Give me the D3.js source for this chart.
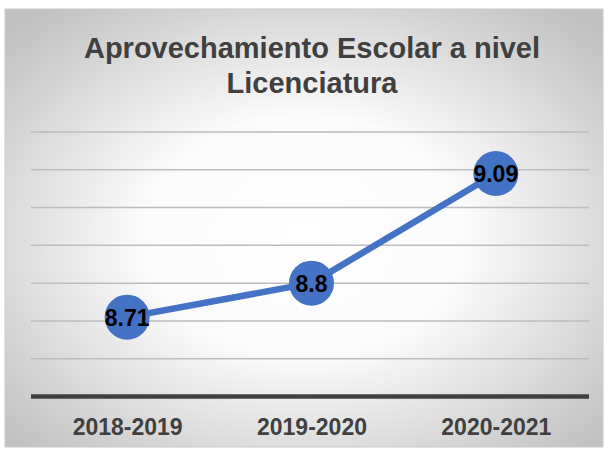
<!DOCTYPE html>
<html>
<head>
<meta charset="utf-8">
<title>Aprovechamiento Escolar</title>
<script src="https://cdn.jsdelivr.net/npm/d3@7"></script>
<style>
  body { margin: 0; background: white; }
  svg { display: block; }
</style>
</head>
<body>
<div id="chart"></div>
<script>
// data
var periodos = ["2018-2019", "2019-2020", "2020-2021"];
var promedios = [8.71, 8.8, 9.09];
var yTicks = [8.5, 8.6, 8.7, 8.8, 8.9, 9.0, 9.1, 9.2];
var tituloLineas = ["Aprovechamiento Escolar a nivel", "Licenciatura"];

var width = 608, height = 451;
var box = {x: 5, y: 9, w: 598, h: 438};
var plot = {left: 31, right: 589, top: 132, bottom: 396.5};

var svg = d3.select("#chart").append("svg")
    .attr("width", width)
    .attr("height", height);

var defs = svg.append("defs");
var grad = defs.append("radialGradient")
    .attr("id", "fondo")
    .attr("cx", "50%").attr("cy", "52%").attr("r", "68%");
grad.append("stop").attr("offset", "0").attr("stop-color", "#ffffff");
grad.append("stop").attr("offset", "0.4").attr("stop-color", "#fbfbfb");
grad.append("stop").attr("offset", "1").attr("stop-color", "#c0c0c0");

svg.append("rect")
    .attr("x", box.x).attr("y", box.y)
    .attr("width", box.w).attr("height", box.h)
    .attr("fill", "url(#fondo)")
    .attr("stroke", "#c9c9c9")
    .attr("stroke-width", 1);

// title
svg.append("text")
    .attr("x", 312)
    .attr("y", 58)
    .attr("text-anchor", "middle")
    .style("font-family", "'Liberation Sans', Arial, sans-serif")
    .style("font-weight", "bold")
    .style("font-size", "29px")
    .style("fill", "#404040")
    .selectAll("tspan")
    .data(tituloLineas).enter()
    .append("tspan")
    .attr("x", 312)
    .attr("dy", function(d, i) { return i === 0 ? 0 : 35; })
    .text(function(d) { return d; });

var x = d3.scalePoint()
    .domain(periodos)
    .range([35, 588])
    .padding(0.5);

var y = d3.scaleLinear()
    .domain([8.5, 9.2])
    .range([plot.bottom, plot.top]);

// gridlines
svg.append("g").attr("class", "grid")
    .selectAll("line")
    .data(yTicks.slice(1)).enter()
    .append("line")
    .attr("x1", plot.left).attr("x2", plot.right)
    .attr("y1", function(d) { return y(d); })
    .attr("y2", function(d) { return y(d); })
    .attr("stroke", "#bdbdbd")
    .attr("stroke-width", 1.5);

// x axis
var xAxis = d3.axisBottom(x).tickSize(0).tickPadding(0);
var gx = svg.append("g")
    .attr("transform", "translate(0," + plot.bottom + ")")
    .call(xAxis);
gx.select(".domain").remove();
gx.append("line")
    .attr("x1", plot.left).attr("x2", plot.right)
    .attr("y1", 0).attr("y2", 0)
    .attr("stroke", "#404040")
    .attr("stroke-width", 4.5);
gx.selectAll(".tick text")
    .attr("y", 38)
    .attr("dy", 0)
    .style("font-family", "'Liberation Sans', Arial, sans-serif")
    .style("font-weight", "bold")
    .style("font-size", "23px")
    .style("fill", "#404040");

var datos = periodos.map(function(p, i) { return {periodo: p, valor: promedios[i]}; });

var linea = d3.line()
    .x(function(d) { return x(d.periodo); })
    .y(function(d) { return y(d.valor); });

svg.append("path")
    .datum(datos)
    .attr("d", linea)
    .attr("fill", "none")
    .attr("stroke", "#4472c4")
    .attr("stroke-width", 6.5)
    .attr("stroke-linejoin", "round");

svg.append("g").selectAll("circle")
    .data(datos).enter()
    .append("circle")
    .attr("cx", function(d) { return x(d.periodo); })
    .attr("cy", function(d) { return y(d.valor); })
    .attr("r", 22.5)
    .attr("fill", "#4472c4");

svg.append("g").selectAll("text")
    .data(datos).enter()
    .append("text")
    .attr("x", function(d) { return x(d.periodo); })
    .attr("y", function(d) { return y(d.valor) + 8.5; })
    .attr("text-anchor", "middle")
    .style("font-family", "'Liberation Sans', Arial, sans-serif")
    .style("font-weight", "bold")
    .style("font-size", "23px")
    .style("fill", "#000000")
    .text(function(d) { return d.valor; });
</script>
</body>
</html>
